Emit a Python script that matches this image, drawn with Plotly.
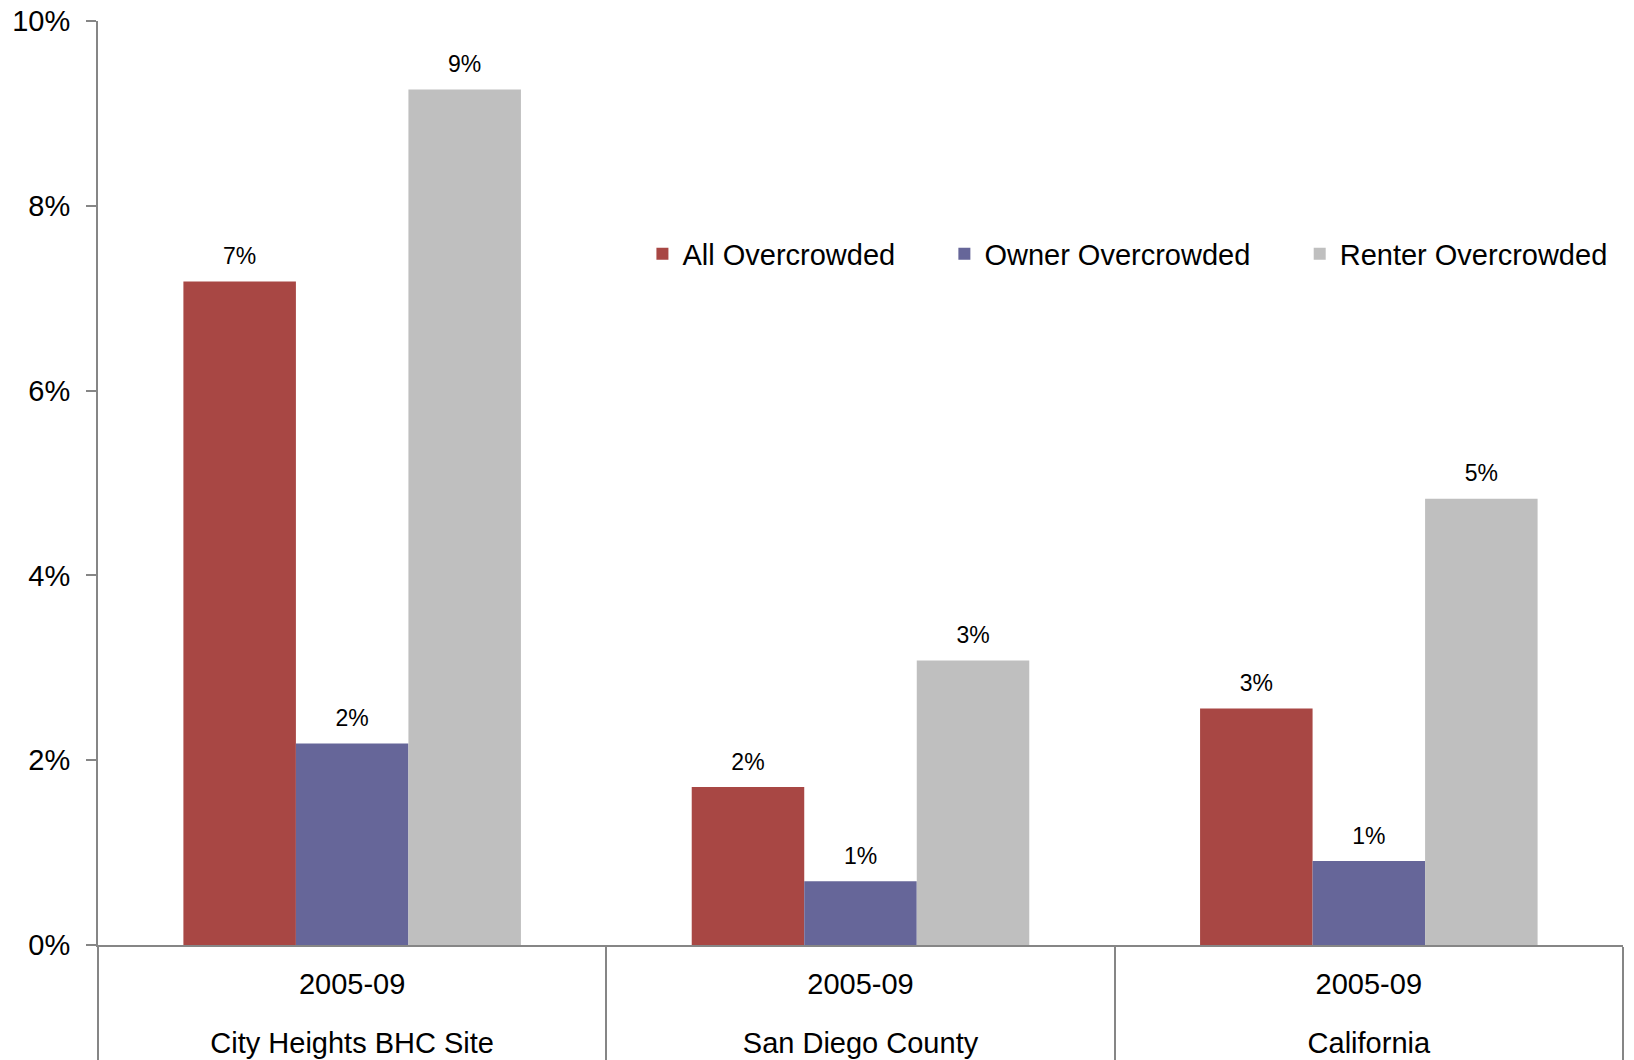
import plotly.graph_objects as go

places = ["City Heights BHC Site", "San Diego County", "California"]
periods = ["2005-09", "2005-09", "2005-09"]
all_overcrowded = [0.0718, 0.0171, 0.0256]
owner_overcrowded = [0.0218, 0.0069, 0.0091]
renter_overcrowded = [0.0926, 0.0308, 0.0483]
series_names = ["All Overcrowded", "Owner Overcrowded", "Renter Overcrowded"]
series_colors = ["#A84744", "#666699", "#BFBFBF"]
y_ticks = [0, 0.02, 0.04, 0.06, 0.08, 0.10]

FONT = "Liberation Sans, Arial, sans-serif"
AXIS = "#868686"
legend_ids = ["legend", "legend2", "legend3"]
legend_x = [0.357, 0.555, 0.788]

fig = go.Figure()
for name, vals, color, lg in zip(series_names,
                                 [all_overcrowded, owner_overcrowded, renter_overcrowded],
                                 series_colors, legend_ids):
    fig.add_bar(
        x=places, y=vals, name=name, legend=lg,
        marker=dict(color=color, line=dict(width=0)),
        texttemplate="<span style='font-size:23px'>%{y:.0%}</span><br><span style='font-size:1px'> </span>",
        textposition="outside",
        textfont=dict(size=11, color="black", family=FONT),
        cliponaxis=False,
    )

ticktext = [f"<span style='font-size:29px'>{p}</span><br><span style='font-size:29px'>{pl}</span>"
            for p, pl in zip(periods, places)]

legend_common = dict(orientation="h", y=0.748, xanchor="left", yanchor="middle",
                     font=dict(size=29, family=FONT, color="black"),
                     bgcolor="rgba(0,0,0,0)")
fig.update_layout(
    width=1634, height=1060,
    barmode="group", bargap=0.336, bargroupgap=0,
    margin=dict(l=98, r=11, t=21, b=115),
    plot_bgcolor="white", paper_bgcolor="white",
    font=dict(family=FONT, size=29, color="black"),
    showlegend=True,
    legend=dict(x=legend_x[0], **legend_common),
    legend2=dict(x=legend_x[1], **legend_common),
    legend3=dict(x=legend_x[2], **legend_common),
)
fig.update_yaxes(
    range=[0, 0.1], tickvals=y_ticks, tickformat=".0%",
    showline=True, linecolor=AXIS, linewidth=2,
    ticks="outside", ticklen=10, tickcolor=AXIS, tickwidth=2,
    ticklabelstandoff=10,
    showgrid=False, zeroline=False, automargin=False,
    tickfont=dict(size=29, family=FONT),
)
fig.update_xaxes(
    type="category", tickmode="array", tickvals=places, ticktext=ticktext,
    tickson="boundaries",
    showline=True, linecolor=AXIS, linewidth=2,
    ticks="outside", ticklen=115, tickcolor=AXIS, tickwidth=2,
    ticklabelstandoff=-7,
    showgrid=False, automargin=False,
    tickfont=dict(size=45, family=FONT, color="black"),
)

fig.write_html("out.html", config={"displayModeBar": False},
               post_script="document.body.style.margin='0px';")
